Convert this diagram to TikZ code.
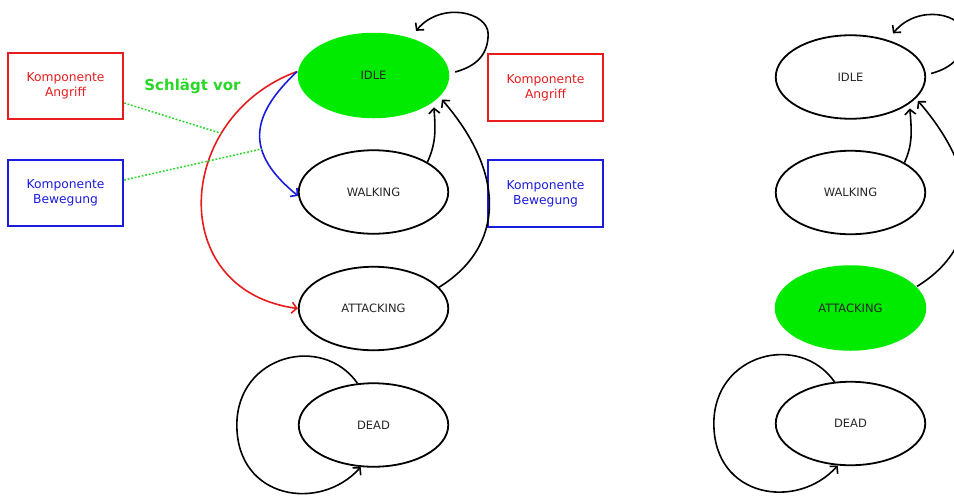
\documentclass[tikz,border=0pt]{standalone}
\usepackage{fontspec}
\setmainfont{DejaVu Sans}
\usetikzlibrary{shapes.geometric,arrows.meta}
\definecolor{stategreen}{RGB}{0,235,0}
\definecolor{labelgreen}{RGB}{40,215,40}
\definecolor{attackred}{RGB}{232,28,28}
\definecolor{moveblue}{RGB}{28,28,222}
\tikzset{
  state/.style={ellipse, draw=black, line width=1.8pt, minimum width=149.5pt,
    minimum height=83.5pt, inner sep=0pt, text=black!85,
    font=\fontsize{11.5}{14}\selectfont},
  activestate/.style={state, draw=none, fill=stategreen,
    minimum width=151.5pt, minimum height=85.5pt},
  compbox/.style={rectangle, draw, line width=1.8pt, minimum width=115.5pt,
    minimum height=66.5pt, inner sep=0pt, align=center,
    font=\fontsize{12.3}{15}\selectfont},
  attackbox/.style={compbox, draw=attackred, text=attackred},
  movebox/.style={compbox, draw=moveblue, text=moveblue},
  trans/.style={line width=1.6pt, -{Straight Barb[length=5pt,width=11pt]}},
  dotline/.style={labelgreen, line width=1.5pt, dash pattern=on 1.8pt off 1.8pt}
}
\begin{document}
\begin{tikzpicture}[x=1pt,y=-1pt]
\useasboundingbox (0,0) rectangle (954,496);
\clip (0,0) rectangle (954,496);

% ---- state machine with component proposals ----
\node[activestate] (li) at (373.5,75.5) {IDLE};
\node[state] (lw) at (373.5,192) {WALKING};
\node[state] (la) at (373.5,308.5) {ATTACKING};
\node[state] (ld) at (373.5,425) {DEAD};

\node[attackbox] (lra) at (65.5,86) {Komponente\\Angriff};
\node[movebox] (lbb) at (65.5,193) {Komponente\\Bewegung};
\node[attackbox] (rra) at (545.5,87.5) {Komponente\\Angriff};
\node[movebox] (rbb) at (545.5,193.5) {Komponente\\Bewegung};

\node[font=\bfseries\fontsize{15}{18}\selectfont, text=labelgreen] (hint) at (192.5,86) {Schlägt vor};

% idle loop
\draw[trans] ([shift={(5,-3.5)}]li.east) .. controls +(22,-6) and +(0,20) ..
  ([shift={(38,-41.5)}]li.east) .. controls +(0,-22) and +(25,-30) ..
  ([shift={(42.5,-1)}]li.north);
% walking -> idle
\draw[trans] (lw.29) .. controls +(8,-18) and +(2,25) .. ([yshift=-5pt]li.-24);
% attacking -> idle
\draw[trans] (la.18) .. controls +(65,-40) and +(65,75) .. ([yshift=-4.5pt]li.-16);
% proposals of the components
\draw[attackred, trans] (li.177) .. controls +(-123,45) and +(-133,-18) .. (la.west)
  coordinate[pos=0.28] (redpt);
\draw[moveblue, trans] (li.177) .. controls +(-48,45) and +(-53,-43) .. (lw.183)
  coordinate[pos=0.62] (bluept);
\draw[dotline] ([yshift=-17pt]lra.east) -- (redpt);
\draw[dotline] ([yshift=13pt]lbb.east) -- (bluept);
% dead loop
\draw[trans] (ld.111) .. controls +(-35,-50) and +(0,-70) ..
  ([xshift=-61pt]ld.west) .. controls +(0,75) and +(-40,45) .. (ld.-107);

% ---- state machine after the decision ----
\node[state] (ri) at (850.5,77) {IDLE};
\node[state] (rw) at (850.5,192.5) {WALKING};
\node[activestate] (ra) at (850.5,308) {ATTACKING};
\node[state] (rd) at (850.5,423.5) {DEAD};

\draw[trans] ([shift={(5,-3.5)}]ri.east) .. controls +(22,-6) and +(0,20) ..
  ([shift={(38,-41.5)}]ri.east) .. controls +(0,-22) and +(25,-30) ..
  ([shift={(42.5,-1)}]ri.north);
\draw[trans] (rw.29) .. controls +(8,-18) and +(2,25) .. ([yshift=-5pt]ri.-24);
\draw[trans] (ra.18) .. controls +(65,-40) and +(65,75) .. ([yshift=-4.5pt]ri.-16);
\draw[trans] (rd.111) .. controls +(-35,-50) and +(0,-70) ..
  ([xshift=-61pt]rd.west) .. controls +(0,75) and +(-40,45) .. (rd.-107);
\end{tikzpicture}
\end{document}
